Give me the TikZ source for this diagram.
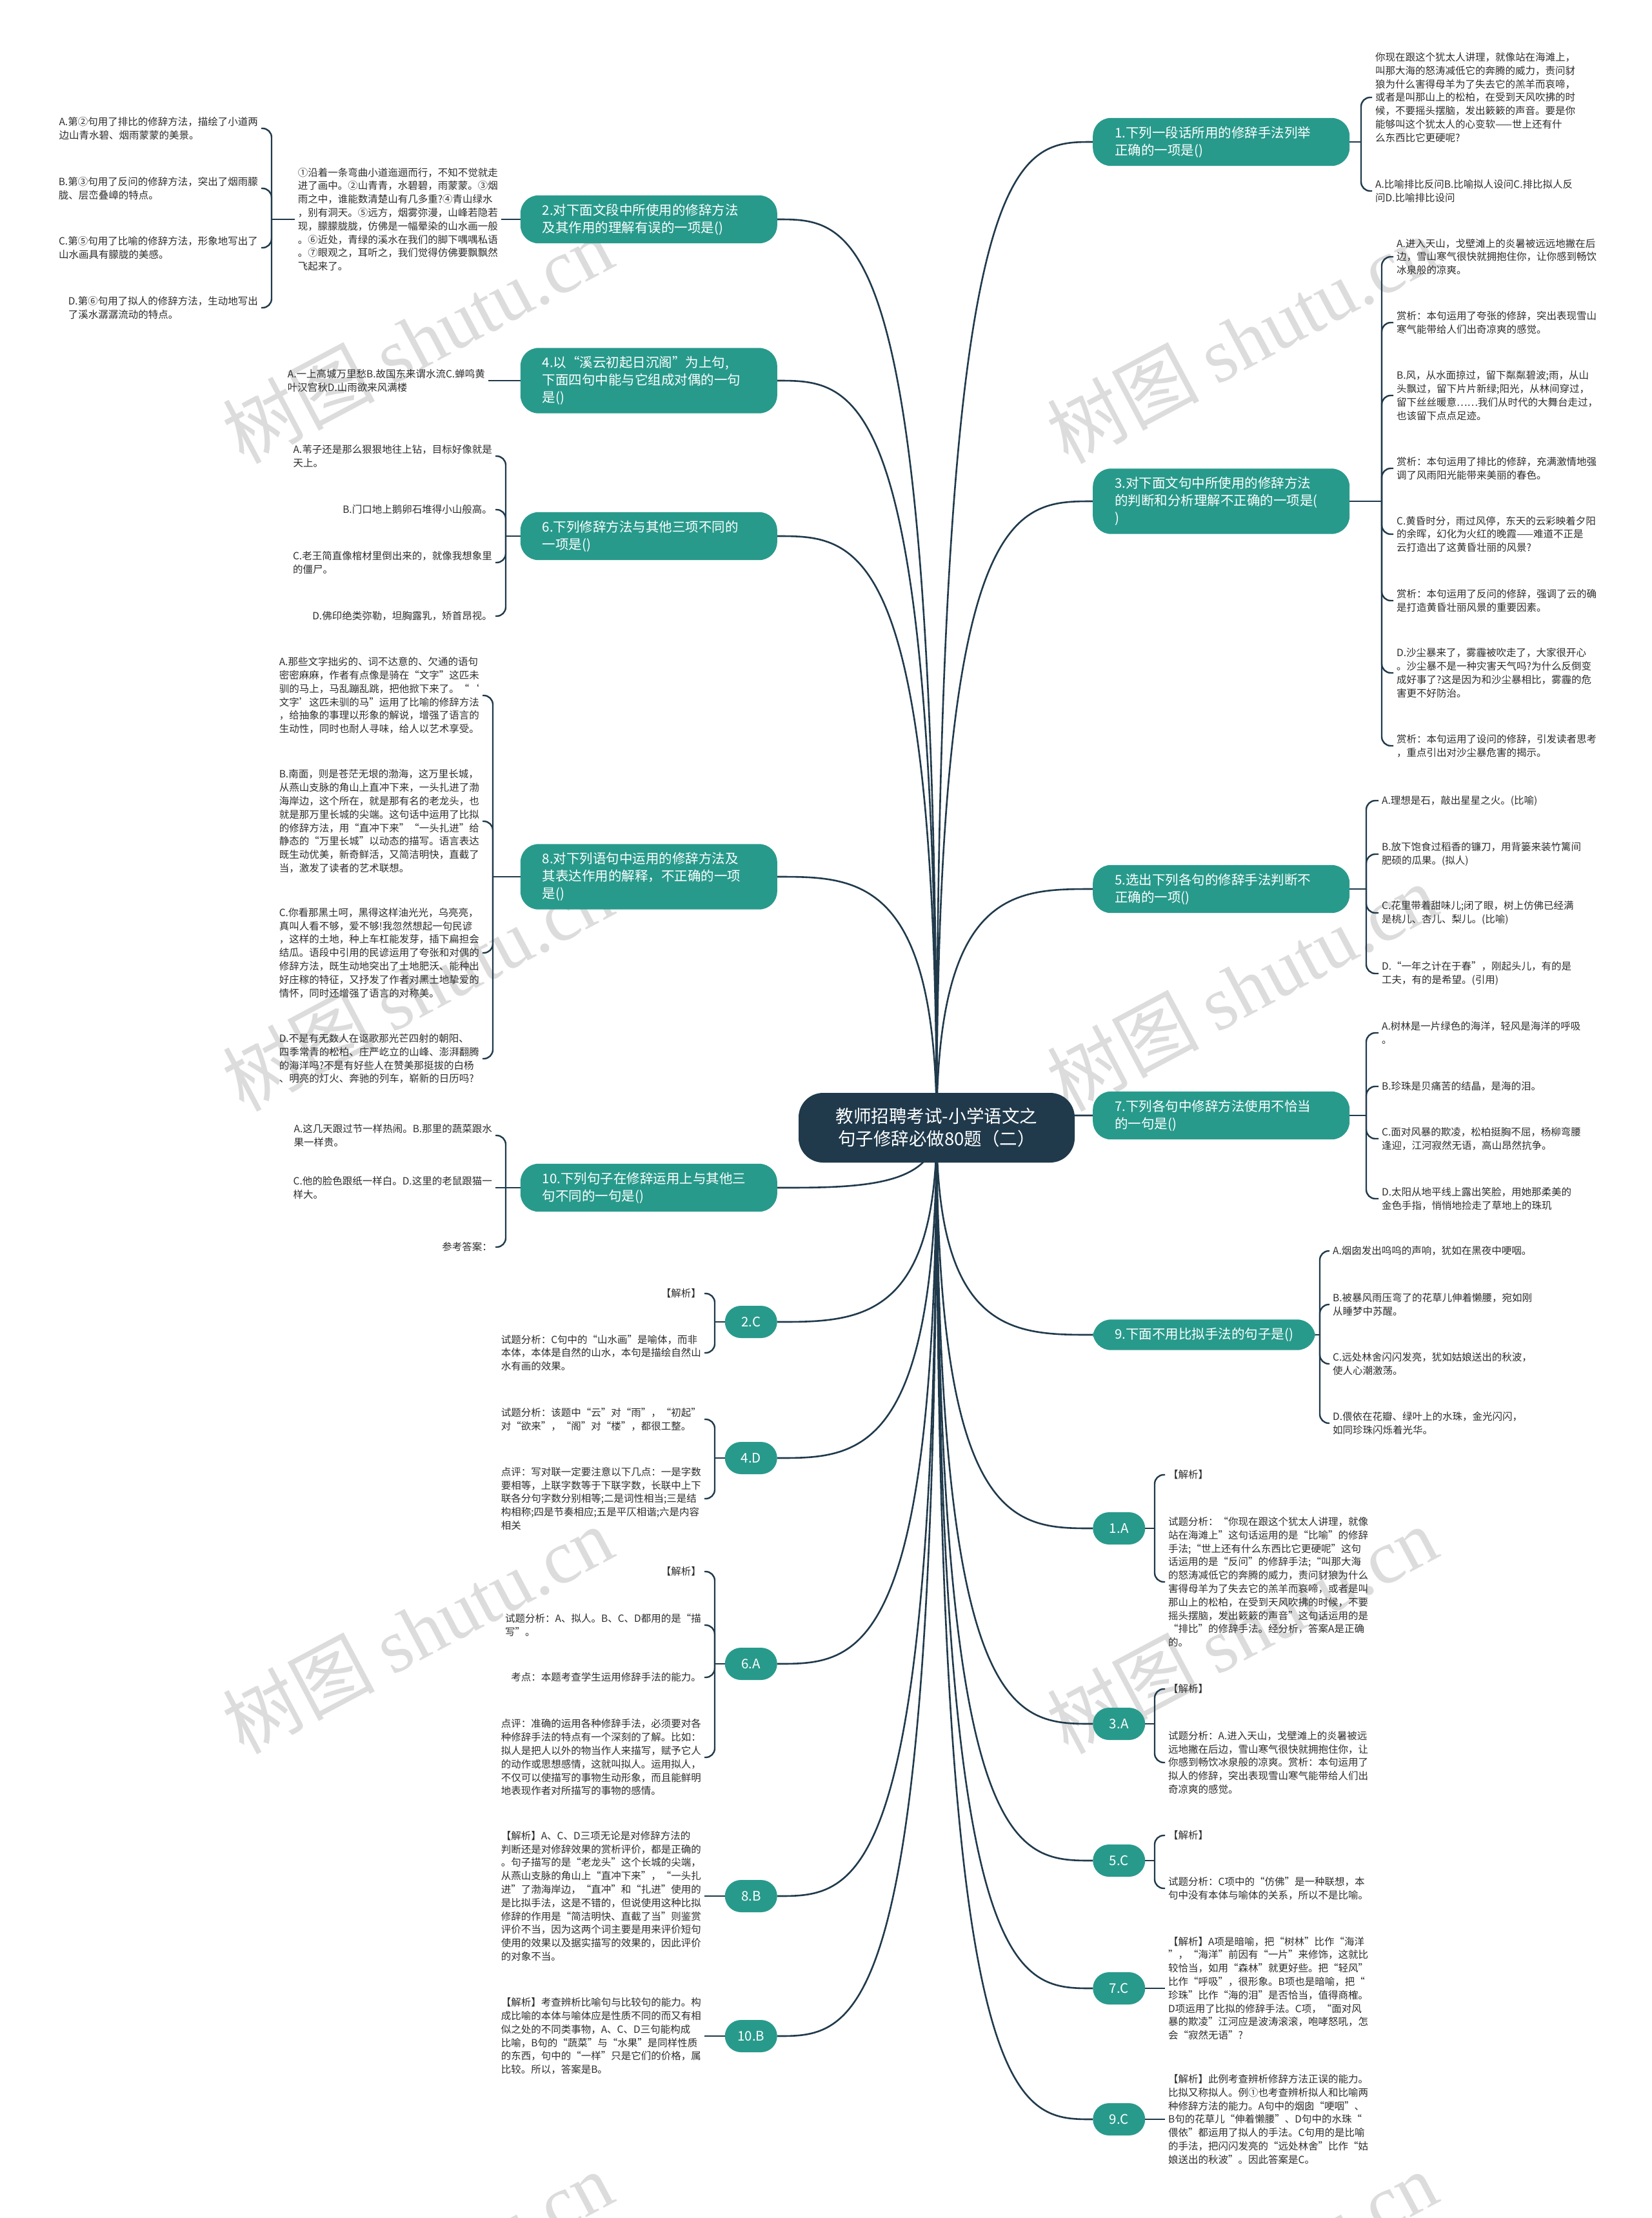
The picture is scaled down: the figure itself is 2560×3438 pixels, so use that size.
\documentclass[tikz,border=0pt]{standalone}
\usepackage{fontspec}
\setmainfont{Noto Sans CJK SC}
\newfontfamily\wmserif{Liberation Serif}
\usetikzlibrary{calc,backgrounds}
\definecolor{mmteal}{RGB}{40,154,140}
\definecolor{mmnavy}{RGB}{32,58,76}
\definecolor{mmtext}{RGB}{45,45,45}
\definecolor{mmwm}{RGB}{220,220,220}

\begin{document}
\begin{tikzpicture}[x=1pt, y=-1pt,
  root/.style  = {rectangle, rounded corners=38pt, fill=mmnavy, text=white, align=center,
                  minimum width=428pt, minimum height=108pt,
                  font=\fontsize{27.5}{35}\selectfont},
  ques/.style  = {rectangle, rounded corners=28pt, fill=mmteal, text=white, align=left,
                  inner xsep=34pt, inner ysep=13pt, font=\fontsize{20.5}{27}\selectfont},
  qwide/.style = {ques, text width=330pt},
  ans/.style   = {rectangle, rounded corners=25pt, fill=mmteal, text=white,
                  minimum width=81pt, minimum height=50pt, inner xsep=12pt,
                  font=\fontsize{20.5}{27}\selectfont},
  txt/.style   = {align=left, text=mmtext, inner sep=5pt, font=\fontsize{15.5}{20.8}\selectfont},
  rtxt/.style  = {txt, anchor=west},
  ltxt/.style  = {txt, anchor=east},
  branch/.style= {draw=mmnavy, line width=2.6pt},
  link/.style  = {draw=mmnavy, line width=2.4pt},
  brc/.style   = {link, rounded corners=14pt},
  wmk/.style   = {text=mmwm, rotate=28, font=\fontsize{118}{118}\selectfont},
]
  \useasboundingbox (0,0) rectangle (2560,3438);

  \node[root] (root) at (1452,1748) {教师招聘考试-小学语文之\\句子修辞必做80题（二）};

  % right questions
  \node[qwide, anchor=west] (q1) at (1694,220)  {1.下列一段话所用的修辞手法列举\\正确的一项是()};
  \node[qwide, anchor=west] (q3) at (1694,777)  {3.对下面文句中所使用的修辞方法\\的判断和分析理解不正确的一项是(\\)};
  \node[qwide, anchor=west] (q5) at (1694,1378) {5.选出下列各句的修辞手法判断不\\正确的一项()};
  \node[qwide, anchor=west] (q7) at (1694,1729) {7.下列各句中修辞方法使用不恰当\\的一句是()};
  \node[ques,  anchor=west] (q9) at (1694,2069) {9.下面不用比拟手法的句子是()};

  \node[ans, anchor=west] (a1) at (1694,2369) {1.A};
  \node[ans, anchor=west] (a3) at (1694,2672) {3.A};
  \node[ans, anchor=west] (a5) at (1694,2884) {5.C};
  \node[ans, anchor=west] (a7) at (1694,3082) {7.C};
  \node[ans, anchor=west] (a9) at (1694,3285) {9.C};

  % left questions
  \node[qwide, anchor=east] (q2)  at (1205,340)  {2.对下面文段中所使用的修辞方法\\及其作用的理解有误的一项是()};
  \node[qwide, anchor=east] (q4)  at (1205,590)  {4.以“溪云初起日沉阁”为上句,\\下面四句中能与它组成对偶的一句\\是()};
  \node[qwide, anchor=east] (q6)  at (1205,831)  {6.下列修辞方法与其他三项不同的\\一项是()};
  \node[qwide, anchor=east] (q8)  at (1205,1359) {8.对下列语句中运用的修辞方法及\\其表达作用的解释，不正确的一项\\是()};
  \node[qwide, anchor=east] (q10) at (1205,1841) {10.下列句子在修辞运用上与其他三\\句不同的一句是()};

  \node[ans, anchor=east] (b2)  at (1205,2049) {2.C};
  \node[ans, anchor=east] (b4)  at (1205,2260) {4.D};
  \node[ans, anchor=east] (b6)  at (1205,2579) {6.A};
  \node[ans, anchor=east] (b8)  at (1205,2939) {8.B};
  \node[ans, anchor=east] (b10) at (1205,3156) {10.B};

  % q1
  \coordinate (q1j) at (2110,220);
  \node[rtxt] (q1a) at (2127,151) {你现在跟这个犹太人讲理，就像站在海滩上，\\叫那大海的怒涛减低它的奔腾的威力，责问豺\\狼为什么害得母羊为了失去它的羔羊而哀啼，\\或者是叫那山上的松柏，在受到天风吹拂的时\\候，不要摇头摆脑，发出簌簌的声音。要是你\\能够叫这个犹太人的心变软——世上还有什\\么东西比它更硬呢?};
  \node[rtxt] (q1b) at (2127,296) {A.比喻排比反问B.比喻拟人设问C.排比拟人反\\问D.比喻排比设问};

  % q3
  \coordinate (q3j) at (2142,777);
  \node[rtxt] (q3a) at (2160,398)  {A.进入天山，戈壁滩上的炎暑被远远地撇在后\\边，雪山寒气很快就拥抱住你，让你感到畅饮\\冰泉般的凉爽。};
  \node[rtxt] (q3b) at (2160,500)  {赏析：本句运用了夸张的修辞，突出表现雪山\\寒气能带给人们出奇凉爽的感觉。};
  \node[rtxt] (q3c) at (2160,613)  {B.风，从水面掠过，留下粼粼碧波;雨，从山\\头飘过，留下片片新绿;阳光，从林间穿过，\\留下丝丝暖意……我们从时代的大舞台走过，\\也该留下点点足迹。};
  \node[rtxt] (q3d) at (2160,726)  {赏析：本句运用了排比的修辞，充满激情地强\\调了风雨阳光能带来美丽的春色。};
  \node[rtxt] (q3e) at (2160,828)  {C.黄昏时分，雨过风停，东天的云彩映着夕阳\\的余晖，幻化为火红的晚霞——难道不正是\\云打造出了这黄昏壮丽的风景?};
  \node[rtxt] (q3f) at (2160,931)  {赏析：本句运用了反问的修辞，强调了云的确\\是打造黄昏壮丽风景的重要因素。};
  \node[rtxt] (q3g) at (2160,1043) {D.沙尘暴来了，雾霾被吹走了，大家很开心\\。沙尘暴不是一种灾害天气吗?为什么反倒变\\成好事了?这是因为和沙尘暴相比，雾霾的危\\害更不好防治。};
  \node[rtxt] (q3h) at (2160,1156) {赏析：本句运用了设问的修辞，引发读者思考\\，重点引出对沙尘暴危害的揭示。};

  % q5
  \coordinate (q5j) at (2118,1378);
  \node[rtxt] (q5a) at (2137,1241) {A.理想是石，敲出星星之火。(比喻)};
  \node[rtxt] (q5b) at (2137,1324) {B.放下饱食过稻香的镰刀，用背篓来装竹篱间\\肥硕的瓜果。(拟人)};
  \node[rtxt] (q5c) at (2137,1415) {C.花里带着甜味儿;闭了眼，树上仿佛已经满\\是桃儿、杏儿、梨儿。(比喻)};
  \node[rtxt] (q5d) at (2137,1509) {D.“一年之计在于春”，刚起头儿，有的是\\工夫，有的是希望。(引用)};

  % q7
  \coordinate (q7j) at (2118,1729);
  \node[rtxt] (q7a) at (2137,1601) {A.树林是一片绿色的海洋，轻风是海洋的呼吸\\。};
  \node[rtxt] (q7b) at (2137,1684) {B.珍珠是贝痛苦的结晶，是海的泪。};
  \node[rtxt] (q7c) at (2137,1765) {C.面对风暴的欺凌，松柏挺胸不屈，杨柳弯腰\\逢迎，江河寂然无语，高山昂然抗争。};
  \node[rtxt] (q7d) at (2137,1858) {D.太阳从地平线上露出笑脸，用她那柔美的\\金色手指，悄悄地捡走了草地上的珠玑};

  % q9
  \coordinate (q9j) at (2046,2069);
  \node[rtxt] (q9a) at (2061,1939) {A.烟囱发出呜呜的声响，犹如在黑夜中哽咽。};
  \node[rtxt] (q9b) at (2061,2022) {B.被暴风雨压弯了的花草儿伸着懒腰，宛如刚\\从睡梦中苏醒。};
  \node[rtxt] (q9c) at (2061,2114) {C.远处林舍闪闪发亮，犹如姑娘送出的秋波，\\使人心潮激荡。};
  \node[rtxt] (q9d) at (2061,2206) {D.偎依在花瓣、绿叶上的水珠，金光闪闪，\\如同珍珠闪烁着光华。};

  % right answers
  \coordinate (a1j) at (1790,2369);
  \node[rtxt] (a1a) at (1806,2286) {【解析】};
  \node[rtxt] (a1b) at (1806,2452) {试题分析：“你现在跟这个犹太人讲理，就像\\站在海滩上”这句话运用的是“比喻”的修辞\\手法;“世上还有什么东西比它更硬呢”这句\\话运用的是“反问”的修辞手法;“叫那大海\\的怒涛减低它的奔腾的威力，责问豺狼为什么\\害得母羊为了失去它的羔羊而哀啼，或者是叫\\那山上的松柏，在受到天风吹拂的时候，不要\\摇头摆脑，发出簌簌的声音”这句话运用的是\\“排比”的修辞手法。经分析，答案A是正确\\的。};
  \coordinate (a3j) at (1790,2672);
  \node[rtxt] (a3a) at (1806,2618) {【解析】};
  \node[rtxt] (a3b) at (1806,2732) {试题分析：A.进入天山，戈壁滩上的炎暑被远\\远地撇在后边，雪山寒气很快就拥抱住你，让\\你感到畅饮冰泉般的凉爽。赏析：本句运用了\\拟人的修辞，突出表现雪山寒气能带给人们出\\奇凉爽的感觉。};
  \coordinate (a5j) at (1790,2884);
  \node[rtxt] (a5a) at (1806,2845) {【解析】};
  \node[rtxt] (a5b) at (1806,2927) {试题分析：C项中的“仿佛”是一种联想，本\\句中没有本体与喻体的关系，所以不是比喻。};
  \node[rtxt] (a7a) at (1806,3082) {【解析】A项是暗喻，把“树林”比作“海洋\\”，“海洋”前因有“一片”来修饰，这就比\\较恰当，如用“森林”就更好些。把“轻风”\\比作“呼吸”，很形象。B项也是暗喻，把“\\珍珠”比作“海的泪”是否恰当，值得商榷。\\D项运用了比拟的修辞手法。C项，“面对风\\暴的欺凌”江河应是波涛滚滚，咆哮怒吼，怎\\会“寂然无语”?};
  \node[rtxt] (a9a) at (1806,3285) {【解析】此例考查辨析修辞方法正误的能力。\\比拟又称拟人。例①也考查辨析拟人和比喻两\\种修辞方法的能力。A句中的烟囱“哽咽”、\\B句的花草儿“伸着懒腰”、D句中的水珠“\\偎依”都运用了拟人的手法。C句用的是比喻\\的手法，把闪闪发亮的“远处林舍”比作“姑\\娘送出的秋波”。因此答案是C。};

  % q2
  \node[ltxt] (q2a) at (777,340) {①沿着一条弯曲小道迤逦而行，不知不觉就走\\进了画中。②山青青，水碧碧，雨蒙蒙。③烟\\雨之中，谁能数清楚山有几多重?④青山绿水\\，别有洞天。⑤远方，烟雾弥漫，山峰若隐若\\现，朦朦胧胧，仿佛是一幅晕染的山水画一般\\。⑥近处，青绿的溪水在我们的脚下喁喁私语\\。⑦眼观之，耳听之，我们觉得仿佛要飘飘然\\飞起来了。};
  \coordinate (q2j) at (421,340);
  \node[ltxt] (q2b) at (405,199) {A.第②句用了排比的修辞方法，描绘了小道两\\边山青水碧、烟雨蒙蒙的美景。};
  \node[ltxt] (q2c) at (405,292) {B.第③句用了反问的修辞方法，突出了烟雨朦\\胧、层峦叠嶂的特点。};
  \node[ltxt] (q2d) at (405,384) {C.第⑤句用了比喻的修辞方法，形象地写出了\\山水画具有朦胧的美感。};
  \node[ltxt] (q2e) at (405,477) {D.第⑥句用了拟人的修辞方法，生动地写出\\了溪水潺潺流动的特点。};

  % q4
  \node[ltxt] (q4a) at (757,590) {A.一上高城万里愁B.故国东来谓水流C.蝉鸣黄\\叶汉宫秋D.山雨欲来风满楼};

  % q6
  \coordinate (q6j) at (784,831);
  \node[ltxt] (q6a) at (768,707) {A.苇子还是那么狠狠地往上钻，目标好像就是\\天上。};
  \node[ltxt] (q6b) at (768,790) {B.门口地上鹅卵石堆得小山般高。};
  \node[ltxt] (q6c) at (768,872) {C.老王简直像棺材里倒出来的，就像我想象里\\的僵尸。};
  \node[ltxt] (q6d) at (768,955) {D.佛印绝类弥勒，坦胸露乳，矫首昂视。};

  % q8
  \coordinate (q8j) at (764,1359);
  \node[ltxt] (q8a) at (748,1078) {A.那些文字拙劣的、词不达意的、欠通的语句\\密密麻麻，作者有点像是骑在“文字”这匹未\\驯的马上，马乱蹦乱跳，把他掀下来了。“‘\\文字’这匹未驯的马”运用了比喻的修辞方法\\，给抽象的事理以形象的解说，增强了语言的\\生动性，同时也耐人寻味，给人以艺术享受。};
  \node[ltxt] (q8b) at (748,1273) {B.南面，则是苍茫无垠的渤海，这万里长城，\\从燕山支脉的角山上直冲下来，一头扎进了渤\\海岸边，这个所在，就是那有名的老龙头，也\\就是那万里长城的尖端。这句话中运用了比拟\\的修辞方法，用“直冲下来”“一头扎进”给\\静态的“万里长城”以动态的描写。语言表达\\既生动优美，新奇鲜活，又简洁明快，直截了\\当，激发了读者的艺术联想。};
  \node[ltxt] (q8c) at (748,1477) {C.你看那黑土呵，黑得这样油光光，乌亮亮，\\真叫人看不够，爱不够!我忽然想起一句民谚\\，这样的土地，种上车杠能发芽，插下扁担会\\结瓜。语段中引用的民谚运用了夸张和对偶的\\修辞方法，既生动地突出了土地肥沃、能种出\\好庄稼的特征，又抒发了作者对黑土地挚爱的\\情怀，同时还增强了语言的对称美。};
  \node[ltxt] (q8d) at (748,1641) {D.不是有无数人在讴歌那光芒四射的朝阳、\\四季常青的松柏、庄严屹立的山峰、澎湃翻腾\\的海洋吗?不是有好些人在赞美那挺拔的白杨\\、明亮的灯火、奔驰的列车，崭新的日历吗?};

  % q10
  \coordinate (q10j) at (784,1841);
  \node[ltxt] (q10a) at (768,1760) {A.这几天跟过节一样热闹。B.那里的蔬菜跟水\\果一样贵。};
  \node[ltxt] (q10b) at (768,1841) {C.他的脸色跟纸一样白。D.这里的老鼠跟猫一\\样大。};
  \node[ltxt] (q10c) at (768,1933) {参考答案：};

  % left answers
  \coordinate (b2j) at (1108,2049);
  \node[ltxt] (b2a) at (1092,2005) {【解析】};
  \node[ltxt] (b2b) at (1092,2097) {试题分析：C句中的“山水画”是喻体，而非\\本体，本体是自然的山水，本句是描绘自然山\\水有画的效果。};
  \coordinate (b4j) at (1108,2260);
  \node[ltxt] (b4a) at (1092,2200) {试题分析：该题中“云”对“雨”，“初起”\\对“欲来”，“阁”对“楼”，都很工整。};
  \node[ltxt] (b4b) at (1092,2323) {点评：写对联一定要注意以下几点：一是字数\\要相等，上联字数等于下联字数，长联中上下\\联各分句字数分别相等;二是词性相当;三是结\\构相称;四是节奏相应;五是平仄相谐;六是内容\\相关};
  \coordinate (b6j) at (1108,2579);
  \node[ltxt] (b6a) at (1092,2436) {【解析】};
  \node[ltxt] (b6b) at (1092,2519) {试题分析：A、拟人。B、C、D都用的是“描\\写”。};
  \node[ltxt] (b6c) at (1092,2600) {考点：本题考查学生运用修辞手法的能力。};
  \node[ltxt] (b6d) at (1092,2724) {点评：准确的运用各种修辞手法，必须要对各\\种修辞手法的特点有一个深刻的了解。比如：\\拟人是把人以外的物当作人来描写，赋予它人\\的动作或思想感情，这就叫拟人。运用拟人，\\不仅可以使描写的事物生动形象，而且能鲜明\\地表现作者对所描写的事物的感情。};
  \node[ltxt] (b8a) at (1092,2939) {【解析】A、C、D三项无论是对修辞方法的\\判断还是对修辞效果的赏析评价，都是正确的\\。句子描写的是“老龙头”这个长城的尖端，\\从燕山支脉的角山上“直冲下来”，“一头扎\\进”了渤海岸边，“直冲”和“扎进”使用的\\是比拟手法，这是不错的，但说使用这种比拟\\修辞的作用是“简洁明快、直截了当”则鉴赏\\评价不当，因为这两个词主要是用来评价短句\\使用的效果以及据实描写的效果的，因此评价\\的对象不当。};
  \node[ltxt] (b10a) at (1092,3156) {【解析】考查辨析比喻句与比较句的能力。构\\成比喻的本体与喻体应是性质不同的而又有相\\似之处的不同类事物，A、C、D三句能构成\\比喻，B句的“蔬菜”与“水果”是同样性质\\的东西，句中的“一样”只是它们的价格，属\\比较。所以，答案是B。};

  \begin{scope}[on background layer]
    \fill[white] (0,0) rectangle (2560,3438);
    \foreach \p in {(647,526),(1925,526),(647,1530),(1925,1530),(647,2526),(1925,2526),(647,3526),(1925,3526)}
      \node[wmk] at \p {树图\ {\wmserif shutu.cn}};
    \foreach \n in {q1,q3,q5,q7,q9,a1,a3,a5,a7,a9}
      \draw[branch] (root.center) .. controls (root.center |- \n.west) and ($(root.center |- \n.west)!0.5!(\n.west)$) .. (\n.west);
    \foreach \n in {q2,q4,q6,q8,q10,b2,b4,b6,b8,b10}
      \draw[branch] (root.center) .. controls (root.center |- \n.east) and ($(root.center |- \n.east)!0.5!(\n.east)$) .. (\n.east);
  \end{scope}

  \draw[link] (q1.east) -- (q1j);
  \foreach \c in {q1a,q1b} \draw[brc] (q1j) |- (\c.west);
  \draw[link] (q3.east) -- (q3j);
  \foreach \c in {q3a,q3b,q3c,q3d,q3e,q3f,q3g,q3h} \draw[brc] (q3j) |- (\c.west);
  \draw[link] (q5.east) -- (q5j);
  \foreach \c in {q5a,q5b,q5c,q5d} \draw[brc] (q5j) |- (\c.west);
  \draw[link] (q7.east) -- (q7j);
  \foreach \c in {q7a,q7b,q7c,q7d} \draw[brc] (q7j) |- (\c.west);
  \draw[link] (q9.east) -- (q9j);
  \foreach \c in {q9a,q9b,q9c,q9d} \draw[brc] (q9j) |- (\c.west);
  \draw[link] (a1.east) -- (a1j);
  \foreach \c in {a1a,a1b} \draw[brc] (a1j) |- (\c.west);
  \draw[link] (a3.east) -- (a3j);
  \foreach \c in {a3a,a3b} \draw[brc] (a3j) |- (\c.west);
  \draw[link] (a5.east) -- (a5j);
  \foreach \c in {a5a,a5b} \draw[brc] (a5j) |- (\c.west);
  \draw[link] (a7.east) -- (a7a.west);
  \draw[link] (a9.east) -- (a9a.west);

  \draw[link] (q2.west) -- (q2a.east);
  \draw[link] (q2a.west) -- (q2j);
  \foreach \c in {q2b,q2c,q2d,q2e} \draw[brc] (q2j) |- (\c.east);
  \draw[link] (q4.west) -- (q4a.east);
  \draw[link] (q6.west) -- (q6j);
  \foreach \c in {q6a,q6b,q6c,q6d} \draw[brc] (q6j) |- (\c.east);
  \draw[link] (q8.west) -- (q8j);
  \foreach \c in {q8a,q8b,q8c,q8d} \draw[brc] (q8j) |- (\c.east);
  \draw[link] (q10.west) -- (q10j);
  \foreach \c in {q10a,q10c} \draw[brc] (q10j) |- (\c.east);
  \draw[link] (q10j) -- (q10b.east);
  \draw[link] (b2.west) -- (b2j);
  \foreach \c in {b2a,b2b} \draw[brc] (b2j) |- (\c.east);
  \draw[link] (b4.west) -- (b4j);
  \foreach \c in {b4a,b4b} \draw[brc] (b4j) |- (\c.east);
  \draw[link] (b6.west) -- (b6j);
  \foreach \c in {b6a,b6b,b6c,b6d} \draw[brc] (b6j) |- (\c.east);
  \draw[link] (b8.west) -- (b8a.east);
  \draw[link] (b10.west) -- (b10a.east);
\end{tikzpicture}
\end{document}
